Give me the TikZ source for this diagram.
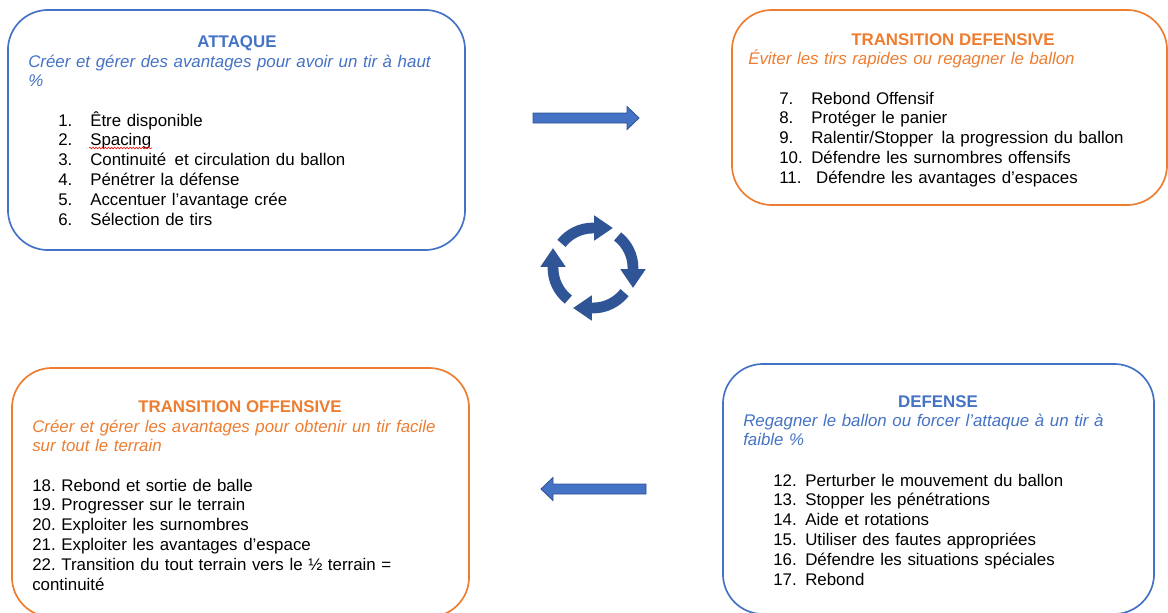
\documentclass[tikz,border=0pt]{standalone}
\usepackage{fontspec}
\setmainfont{Liberation Sans}
\usepackage{xcolor}
\usepackage{tikz}
\usetikzlibrary{arrows.meta, decorations.pathmorphing}

\definecolor{bleuoffice}{HTML}{4472C4}
\definecolor{orangeoffice}{HTML}{ED7D31}
\definecolor{bleufonce}{HTML}{2F5597}
\definecolor{bordfleche}{HTML}{2F528F}
\newcommand{\taille}{\fontsize{12}{14.1}\selectfont\frenchspacing}
\newcommand{\puce}[2]{\makebox[0.8cm][l]{#1}#2}

\begin{document}
\begin{tikzpicture}[x=0.025cm, y=0.025cm,
    phase/.style={rectangle, draw=#1, line width=1.2pt, rounded corners=1cm},
    titre/.style={font=\taille\bfseries, text=#1, anchor=base, inner sep=0pt},
    objectif/.style={font=\taille\itshape, text=#1, anchor=base west, inner sep=0pt, text width=11cm, align=left},
    liste/.style={font=\taille, anchor=base west, inner sep=0pt, text width=11cm, align=left},
    fleche/.style={fill=bleuoffice, draw=bordfleche, line width=0.6pt},
    rotation/.style={draw=bleufonce, line width=0.27cm, -{Triangle[length=0.47cm, width=0.6cm]}}]

    \useasboundingbox (0,0) rectangle (1168,-612);

    % les quatre phases
    \node[phase=bleuoffice, minimum width=11.425cm, minimum height=6cm] (attaque) at (236.5,-130) {};
    \node[phase=orangeoffice, minimum width=10.875cm, minimum height=4.875cm] (transdef) at (949.5,-107.5) {};
    \node[phase=orangeoffice, minimum width=11.425cm, minimum height=6.225cm] (transoff) at (240.5,-492.5) {};
    \node[phase=bleuoffice, minimum width=10.775cm, minimum height=6.25cm] (defense) at (938.5,-489) {};

    % attaque
    \node[titre=bleuoffice] (titreatt) at (237,-47) {ATTAQUE};
    \node[objectif=bleuoffice] (objatt) at (28,-67) {Créer et gérer des avantages pour avoir un tir à haut\\ \%};
    \node[liste] (listeatt) at (58,-126) {
        \puce{1.}{Être disponible}\\
        \puce{2.}{Spacing}\\
        \puce{3.}{Continuité\, et circulation du ballon}\\
        \puce{4.}{Pénétrer la défense}\\
        \puce{5.}{Accentuer l’avantage crée}\\
        \puce{6.}{Sélection de tirs}
    };
    \draw[red, line width=0.4pt, decorate, decoration={snake, amplitude=0.6pt, segment length=2.2pt}] (89,-148) -- (152,-148);

    % transition defensive
    \node[titre=orangeoffice] (titretd) at (953,-45) {TRANSITION DEFENSIVE};
    \node[objectif=orangeoffice] (objtd) at (748,-64) {Éviter les tirs rapides ou regagner le ballon};
    \node[liste] (listetd) at (779,-104) {
        \puce{7.}{Rebond Offensif}\\
        \puce{8.}{Protéger le panier}\\
        \puce{9.}{Ralentir/Stopper\, la progression du ballon}\\
        \puce{10.}{Défendre les surnombres offensifs}\\
        \puce{11.}{\hspace{0.12cm}Défendre les avantages d’espaces}
    };

    % defense
    \node[titre=bleuoffice] (titredef) at (938,-407) {DEFENSE};
    \node[objectif=bleuoffice] (objdef) at (743,-426) {Regagner le ballon ou forcer l’attaque à un tir à\\ faible \%};
    \node[liste] (listedef) at (773,-486) {
        \puce{12.}{Perturber le mouvement du ballon}\\
        \puce{13.}{Stopper les pénétrations}\\
        \puce{14.}{Aide et rotations}\\
        \puce{15.}{Utiliser des fautes appropriées}\\
        \puce{16.}{Défendre les situations spéciales}\\
        \puce{17.}{Rebond}
    };

    % transition offensive
    \node[titre=orangeoffice] (titreto) at (240,-412) {TRANSITION OFFENSIVE};
    \node[objectif=orangeoffice] (objto) at (32,-432) {Créer et gérer les avantages pour obtenir un tir facile\\ sur tout le terrain};
    \node[liste] (listeto) at (32,-491) {
        18. Rebond et sortie de balle\\
        19. Progresser sur le terrain\\
        20. Exploiter les surnombres\\
        21. Exploiter les avantages d'espace\\
        22. Transition du tout terrain vers le ½ terrain =\\
        continuité
    };

    % fleches
    \draw[fleche] (533,-113) -- (627,-113) -- (627,-106.5) -- (639,-118) -- (627,-129.5) -- (627,-123) -- (533,-123) -- cycle;
    \draw[fleche] (646,-484) -- (553,-484) -- (553,-477.5) -- (541,-489) -- (553,-500.5) -- (553,-494) -- (646,-494) -- cycle;

    % cycle
    \foreach \a in {142,52,-38,-128}
        \draw[rotation] (593,-268) ++(\a:40) arc[start angle=\a, delta angle=-52, radius=40] -- ++(\a-142:20);
\end{tikzpicture}
\end{document}
